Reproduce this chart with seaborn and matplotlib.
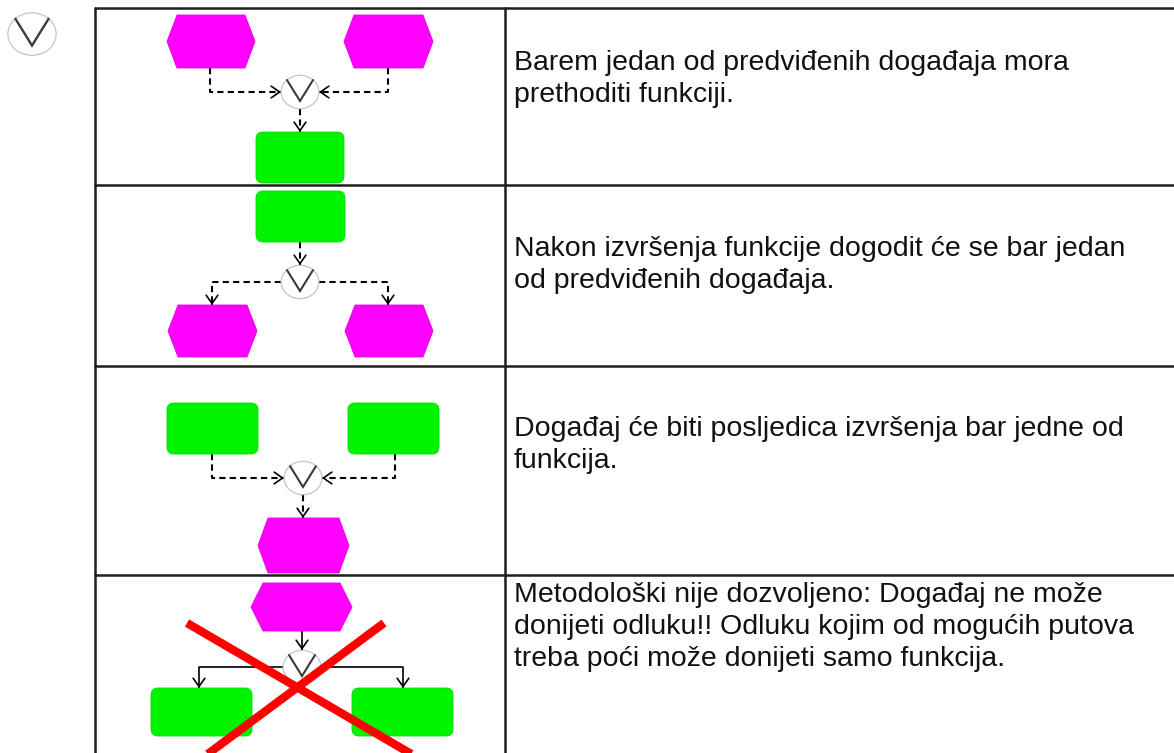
import matplotlib
matplotlib.use("Agg")
import matplotlib.pyplot as plt
from matplotlib.patches import Polygon, Ellipse, FancyBboxPatch
import seaborn as sns

# text of the right-hand column, one list of lines per row
row_texts = [
    ["Barem jedan od predviđenih događaja mora",
     "prethoditi funkciji."],
    ["Nakon izvršenja funkcije dogodit će se bar jedan",
     "od predviđenih događaja."],
    ["Događaj će biti posljedica izvršenja bar jedne od",
     "funkcija."],
    ["Metodološki nije dozvoljeno: Događaj ne može",
     "donijeti odluku!! Odluku kojim od mogućih putova",
     "treba poći može donijeti samo funkcija."],
]
row_kinds = ["dashed", "dashed", "dashed", "solid"]
row_crossed = [False, False, False, True]

MAGENTA = "#ff00ff"
GREEN = "#00f400"
W, H = 1174, 753


def event(ax, x0, x1, y0, y1, ind=10):
    ym = (y0 + y1) / 2
    pts = [(x0, ym), (x0 + ind, y0), (x1 - ind, y0), (x1, ym), (x1 - ind, y1), (x0 + ind, y1)]
    ax.add_patch(Polygon(pts, closed=True, fc=MAGENTA, ec="#e600e6", lw=0.6, zorder=2))


def function(ax, x0, x1, y0, y1, r=7):
    ax.add_patch(FancyBboxPatch((x0 + r, y0 + r), x1 - x0 - 2 * r, y1 - y0 - 2 * r,
                                boxstyle=f"round,pad={r}", fc=GREEN, ec="#00dd00",
                                lw=0.6, zorder=2))


def junction(ax, cx, cy, r=18, lw=1.5):
    # the source is slightly stretched sideways, so circles come out as ellipses
    ax.add_patch(Ellipse((cx, cy), 2.1 * r, 1.85 * r, fc="white", ec="#c4c4c4",
                         lw=0.9, zorder=3))
    ax.plot([cx - 0.72 * r, cx, cx + 0.72 * r], [cy - 0.66 * r, cy + 0.5 * r, cy - 0.66 * r],
            color="#3a3a3a", lw=lw, zorder=4, solid_joinstyle="miter")


def connector(ax, pts, kind):
    xs = [p[0] for p in pts]
    ys = [p[1] for p in pts]
    if kind == "dashed":
        ax.plot(xs, ys, color="black", lw=1.5, ls=(0, (3, 2)), zorder=1)
    else:
        ax.plot(xs, ys, color="black", lw=1.2, zorder=1)
    (xa, ya), (xb, yb) = pts[-2], pts[-1]
    d = ((xb - xa) ** 2 + (yb - ya) ** 2) ** 0.5
    start = (xb - (xb - xa) / d * 2, yb - (yb - ya) / d * 2)
    ax.annotate("", xy=(xb, yb), xytext=start,
                arrowprops=dict(arrowstyle="->,head_length=0.5,head_width=0.35",
                                color="black", lw=1.2, shrinkA=0, shrinkB=0,
                                mutation_scale=12), zorder=1)


def main():
    sns.set_theme(style="white")
    plt.rcParams["font.family"] = ["Liberation Sans", "DejaVu Sans"]

    fig = plt.figure(figsize=(W / 100, H / 100), dpi=100)
    ax = fig.add_axes([0, 0, 1, 1])
    ax.set_xlim(0, W)
    ax.set_ylim(H, 0)
    ax.axis("off")

    # table grid
    grid = dict(color="#1e1e1e", lw=1.8, zorder=5)
    ax.plot([95, W], [8, 8], **grid)
    ax.plot([95, 95], [8, H], **grid)
    ax.plot([505, 505], [8, H], **grid)
    for y in [185, 366, 575]:
        ax.plot([95, W], [y, y], **grid)

    # symbol in the top-left corner
    junction(ax, 32, 34, r=23, lw=1.7)

    # row 1: two events -> OR -> function
    k = row_kinds[0]
    event(ax, 167, 255, 15, 68)
    event(ax, 344, 433, 15, 68)
    junction(ax, 300, 92)
    connector(ax, [(210, 68), (210, 92), (281, 92)], k)
    connector(ax, [(388, 68), (388, 92), (319, 92)], k)
    connector(ax, [(300, 109), (300, 132)], k)
    function(ax, 256, 344, 132, 183)

    # row 2: function -> OR -> two events
    k = row_kinds[1]
    function(ax, 256, 345, 191, 242)
    connector(ax, [(300, 242), (300, 265)], k)
    junction(ax, 300, 282)
    connector(ax, [(281, 282), (212, 282), (212, 305)], k)
    connector(ax, [(319, 282), (388, 282), (388, 305)], k)
    event(ax, 168, 257, 305, 357)
    event(ax, 345, 433, 305, 357)

    # row 3: two functions -> OR -> event
    k = row_kinds[2]
    function(ax, 167, 258, 403, 454)
    function(ax, 348, 439, 403, 454)
    junction(ax, 303, 478)
    connector(ax, [(212, 454), (212, 478), (284, 478)], k)
    connector(ax, [(395, 454), (395, 478), (322, 478)], k)
    connector(ax, [(303, 495), (303, 518)], k)
    event(ax, 258, 349, 518, 573)

    # row 4: event -> OR -> two functions (not allowed)
    k = row_kinds[3]
    event(ax, 251, 352, 583, 631, ind=12)
    connector(ax, [(302, 631), (302, 650)], k)
    junction(ax, 302, 667)
    connector(ax, [(283, 667), (199, 667), (199, 688)], k)
    connector(ax, [(321, 667), (403, 667), (403, 688)], k)
    function(ax, 151, 252, 688, 736)
    function(ax, 352, 453, 688, 736)
    if row_crossed[3]:
        ax.plot([187, 425], [623, 762], color="#ff0000", lw=6, zorder=6, solid_capstyle="butt")
        ax.plot([384, 197], [623, 762], color="#ff0000", lw=6, zorder=6, solid_capstyle="butt")

    # descriptions
    first_baselines = [70, 256, 436, 602]
    for lines, y0 in zip(row_texts, first_baselines):
        for i, line in enumerate(lines):
            ax.text(514, y0 + i * 32, line, fontsize=20.5, color="#111111",
                    va="baseline", ha="left", zorder=7)

    fig.savefig("out.png", dpi=100)


if __name__ == "__main__":
    main()
